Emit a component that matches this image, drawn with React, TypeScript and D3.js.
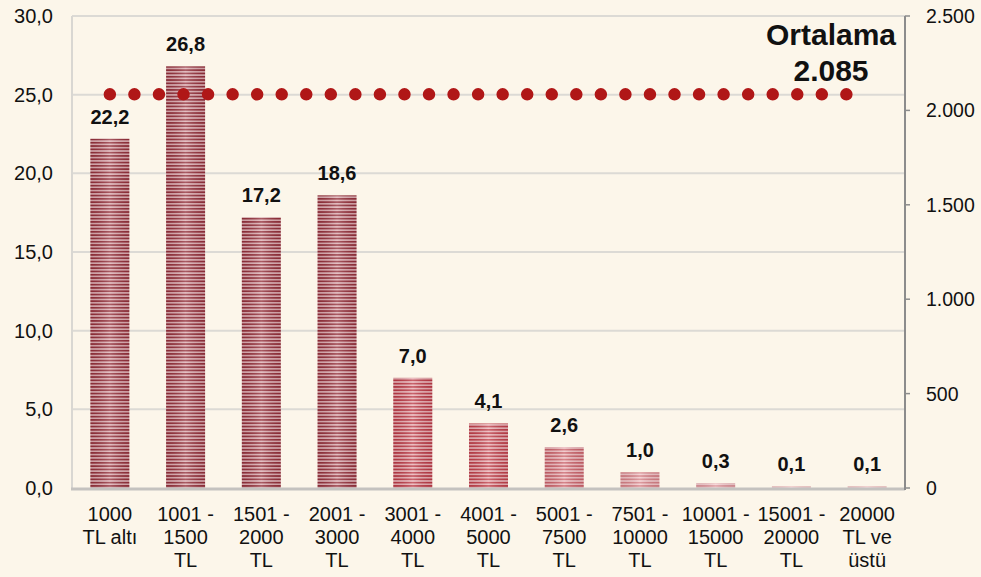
import React from "react";
import * as d3 from "d3";

const categories: string[][] = [
  ["1000", "TL altı"],
  ["1001 -", "1500", "TL"],
  ["1501 -", "2000", "TL"],
  ["2001 -", "3000", "TL"],
  ["3001 -", "4000", "TL"],
  ["4001 -", "5000", "TL"],
  ["5001 -", "7500", "TL"],
  ["7501 -", "10000", "TL"],
  ["10001 -", "15000", "TL"],
  ["15001 -", "20000", "TL"],
  ["20000", "TL ve", "üstü"],
];
const values: number[] = [22.2, 26.8, 17.2, 18.6, 7.0, 4.1, 2.6, 1.0, 0.3, 0.1, 0.1];
const averageValue = 2085;
const leftTicks: number[] = [0, 5, 10, 15, 20, 25, 30];
const rightTicks: number[] = [0, 500, 1000, 1500, 2000, 2500];

const barColors = [
  "#8e2f39", "#8e2f39", "#8e2f39", "#8e2f39",
  "#b83a45", "#bd3f49", "#c9656c", "#d48489", "#dc9a9f", "#e2aaae", "#e2aaae",
];

const W = 981;
const H = 577;
const M = { left: 72, right: 905, top: 16, bottom: 488 };

export default function App() {
  const x = d3
    .scaleBand<number>()
    .domain(values.map((_, i) => i))
    .range([M.left, M.right])
    .paddingInner(0.485)
    .paddingOuter(0.2425);
  const y = d3.scaleLinear().domain([0, 30]).range([M.bottom, M.top]);
  const y2 = d3.scaleLinear().domain([0, 2500]).range([M.bottom, M.top]);
  const fmt = (v: number) => v.toFixed(1).replace(".", ",");
  const fmt2 = (v: number) => d3.format(",")(v).replace(/,/g, ".");
  const bw = x.bandwidth();
  const cx = (i: number) => (x(i) as number) + bw / 2;
  const avgY = y2(averageValue);

  return (
    <svg
      width={W}
      height={H}
      style={{ position: "absolute", left: 0, top: 0, fontFamily: "'Liberation Sans', Arial, sans-serif" }}
    >
      <defs>
        {barColors.map((c, i) => {
          const light = d3.interpolateRgb(c, "#fff0f1")(0.7);
          return (
            <pattern key={i} id={`stripe${i}`} width={8} height={3.3} patternUnits="userSpaceOnUse">
              <rect width={8} height={3.3} fill={light} />
              <rect width={8} height={1.7} fill={c} />
            </pattern>
          );
        })}
        <linearGradient id="sheen" x1="0" x2="1" y1="0" y2="0">
          <stop offset="0" stopColor="#5a0a14" stopOpacity={0.12} />
          <stop offset="0.5" stopColor="#ffe6e8" stopOpacity={0.25} />
          <stop offset="1" stopColor="#5a0a14" stopOpacity={0.12} />
        </linearGradient>
      </defs>
      <rect width={W} height={H} fill="#fcf6ea" />

      {leftTicks.slice(1).map((t) => (
        <line key={t} x1={M.left} x2={M.right} y1={y(t)} y2={y(t)} stroke="#dcdad5" strokeWidth={2} />
      ))}
      <line x1={M.left} x2={M.left} y1={M.top} y2={M.bottom} stroke="#d9d7d2" strokeWidth={2} />

      {values.map((v, i) => {
        const top = y(v);
        const h = M.bottom - top;
        return (
          <g key={i}>
            <rect x={x(i)} y={top} width={bw} height={h} fill={`url(#stripe${i})`} />
            <rect x={x(i)} y={top} width={bw} height={h} fill="url(#sheen)" />
          </g>
        );
      })}

      <line x1={M.left - 1} x2={M.right} y1={M.bottom + 1} y2={M.bottom + 1} stroke="#c4c2bf" strokeWidth={3} />

      <line x1={M.right} x2={M.right} y1={M.top} y2={M.bottom + 2} stroke="#8c8c8c" strokeWidth={2} />
      {rightTicks.map((t) => (
        <g key={t}>
          <line x1={M.right} x2={M.right + 5} y1={y2(t)} y2={y2(t)} stroke="#8c8c8c" strokeWidth={1.5} />
          <text x={926} y={y2(t) + 7} fontSize={19.5} fill="#111">
            {fmt2(t)}
          </text>
        </g>
      ))}

      {leftTicks.map((t) => (
        <text key={t} x={53} y={y(t) + 7} fontSize={20} textAnchor="end" fill="#111">
          {fmt(t)}
        </text>
      ))}

      {values.map((v, i) => (
        <text
          key={i}
          x={cx(i)}
          y={y(v) - 15}
          fontSize={20}
          fontWeight="bold"
          textAnchor="middle"
          fill="#111"
        >
          {fmt(v)}
        </text>
      ))}

      <line
        x1={cx(0)}
        x2={cx(values.length - 1)}
        y1={avgY}
        y2={avgY}
        stroke="#b01717"
        strokeWidth={12.5}
        strokeLinecap="round"
        strokeDasharray="0 24.55"
      />

      {categories.map((lines, i) => (
        <text key={i} x={cx(i)} y={521} fontSize={20} textAnchor="middle" fill="#111">
          {lines.map((l, j) => (
            <tspan key={j} x={cx(i)} dy={j === 0 ? 0 : 23}>
              {l}
            </tspan>
          ))}
        </text>
      ))}

      <text x={831} y={45} fontSize={30} fontWeight="bold" textAnchor="middle" fill="#111">
        Ortalama
      </text>
      <text x={831} y={81} fontSize={30} fontWeight="bold" textAnchor="middle" fill="#111">
        {fmt2(averageValue)}
      </text>
    </svg>
  );
}
